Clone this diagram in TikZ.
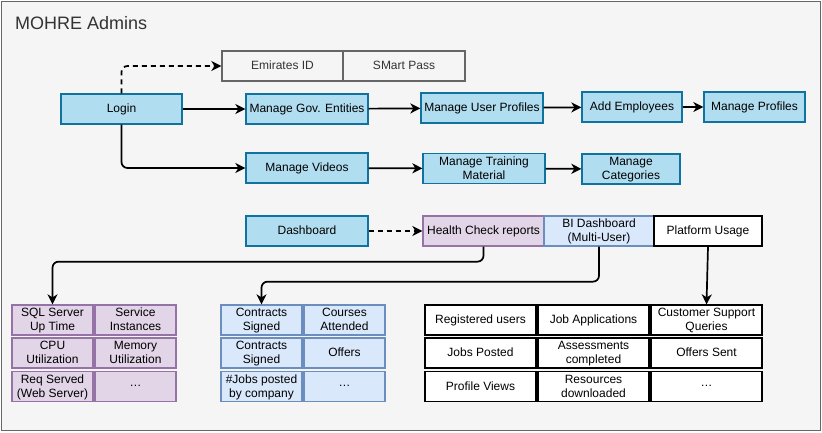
\documentclass[tikz,border=0pt]{standalone}
\usepackage{fontspec}
\setmainfont{Liberation Sans}
\usepackage{tikz}
\usetikzlibrary{arrows.meta}
\usetikzlibrary{positioning}
\usetikzlibrary{calc}
\definecolor{bluefill}{HTML}{B1DDF0}
\definecolor{bluedraw}{HTML}{10739E}
\definecolor{grayfill}{HTML}{F5F5F5}
\definecolor{graydraw}{HTML}{666666}
\definecolor{graytext}{HTML}{333333}
\definecolor{purplefill}{HTML}{E1D5E7}
\definecolor{purpledraw}{HTML}{9673A6}
\definecolor{lightfill}{HTML}{DAE8FC}
\definecolor{lightdraw}{HTML}{6C8EBF}
\tikzstyle{nd}=[rectangle,draw,align=center,inner sep=0pt,minimum height=30pt,text depth=1.2pt,font=\fontsize{12}{14}\selectfont,line width=1.3pt]
\tikzstyle{bluebox}=[nd,fill=bluefill,draw=bluedraw]
\tikzstyle{graybox}=[nd,fill=grayfill,draw=graydraw,text=graytext]
\tikzstyle{purplecell}=[nd,fill=purplefill,draw=purpledraw]
\tikzstyle{lightcell}=[nd,fill=lightfill,draw=lightdraw]
\tikzstyle{blackcell}=[nd,fill=white,draw=black]
\tikzstyle{edge} = [draw,line width=1.7pt,-{Stealth[length=10pt,width=10pt,inset=3pt]},rounded corners=6pt]
\tikzstyle{dashededge} = [edge,dash pattern=on 5pt off 4pt]
\newcommand{\more}{.\kern0.5pt.\kern0.5pt.}

\begin{document}
\begin{tikzpicture}[x=1pt,y=-1pt]

  \useasboundingbox (0,0) rectangle (822,432);
  \draw[draw=graydraw,fill=grayfill,line width=1.4pt] (1.2,1.2) rectangle (820.3,430.3);
  \node[anchor=base west,text=graytext,font=\fontsize{18}{22}\selectfont,inner sep=0pt] (title) at (15,29) {MOHRE Admins};

  % login flow
  \foreach \x/\y/\w/\name/\label in {282.5/66/121/emid/Emirates ID, 404/66/122/smart/SMart Pass}
          \node[graybox,minimum width=\w pt] (\name) at (\x,\y) {\label};

  \foreach \x/\y/\w/\name/\label in {
      121.5/109/121/login/Login, 307/109/122/govent/Manage Gov. Entities,
      482/108/122/userprof/Manage User Profiles, 632/107/100/addemp/Add Employees,
      754.5/107/101/profiles/Manage Profiles, 307/168/122/videos/Manage Videos,
      484/168.5/122/training/{Manage Training\\Material}, 631/169/98/categories/{Manage\\Categories},
      307/231/122/dashboard/Dashboard}
          \node[bluebox,minimum width=\w pt] (\name) at (\x,\y) {\label};

  \node[purplecell,minimum width=121pt] (health) at (483.5,231) {Health Check reports};
  \node[lightcell,minimum width=110pt] (bidash) at (599,231) {BI Dashboard\\(Multi-User)};
  \node[blackcell,minimum width=108pt] (platform) at (708,231) {Platform Usage};

  % metric grids
  \foreach \x/\y/\name/\label in {
      52.5/320/sqlup/{SQL Server\\Up Time}, 135.5/320/services/{Service\\Instances},
      52.5/353/cpu/{CPU\\Utilization}, 135.5/353/memory/{Memory\\Utilization},
      52.5/386.5/reqserved/{Req Served\\(Web Server)}, 135.5/386.5/healthmore/\more}
          \node[purplecell,minimum width=81pt] (\name) at (\x,\y) {\label};

  \foreach \x/\y/\name/\label in {
      261.5/320/contracts/{Contracts\\Signed}, 344.5/320/courses/{Courses\\Attended},
      261.5/353/contractsb/{Contracts\\Signed}, 344.5/353/offers/Offers,
      261.5/386.5/jobsposted/{\#Jobs posted\\by company}, 344.5/386.5/bimore/\more}
          \node[lightcell,minimum width=81pt] (\name) at (\x,\y) {\label};

  \foreach \x/\y/\name/\label in {
      480.5/320/registered/Registered users, 593.5/320/jobapps/Job Applications,
      706.5/320/support/{Customer Support\\Queries},
      480.5/353/jobs/Jobs Posted, 593.5/353/assessments/{Assessments\\completed},
      706.5/353/offerssent/Offers Sent,
      480.5/386.5/views/Profile Views, 593.5/386.5/resources/{Resources\\downloaded},
      706.5/386.5/usagemore/\more}
          \node[blackcell,minimum width=111pt] (\name) at (\x,\y) {\label};

  % connectors
  \foreach \source/ \dest in {login/govent, govent/userprof, userprof/addemp, addemp/profiles,
                              videos/training, training/categories}
         \path[edge] (\source) -- (\dest);

  \path[dashededge] (login.north) |- (emid.west);
  \path[edge] (login.south) |- (videos.west);
  \path[dashededge] (dashboard) -- (health);
  \path[edge] (health.south) -- ++(0,15) -| (sqlup.north);
  \path[edge] (bidash.south) -- ++(0,35) -| (contracts.north);
  \path[edge] (platform.south) -- (support.north);

\end{tikzpicture}
\end{document}
